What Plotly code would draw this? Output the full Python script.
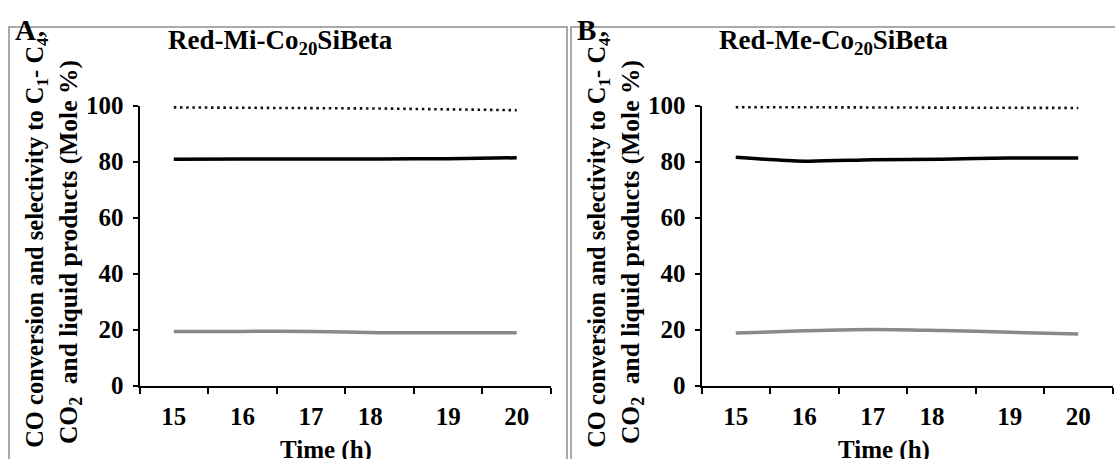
import plotly.graph_objects as go

W, H = 1115, 459

hours = ["15", "16", "17", "18", "19", "20"]
hour_labels = ["15", "16", "17", "18\u00a0\u00a0\u00a0", "19", "20"]
y_ticks = [0, 20, 40, 60, 80, 100]

# Panel A: Red-Mi-Co20SiBeta
a_dotted = [99.4, 99.3, 99.2, 99.0, 98.7, 98.4]
a_solid = [80.9, 81.0, 81.0, 81.0, 81.1, 81.4]
a_gray = [19.4, 19.4, 19.4, 18.9, 18.9, 18.9]

# Panel B: Red-Me-Co20SiBeta
b_dotted = [99.5, 99.4, 99.3, 99.3, 99.2, 99.2]
b_solid = [81.6, 80.2, 80.7, 80.9, 81.3, 81.3]
b_gray = [18.8, 19.6, 20.1, 19.7, 19.1, 18.5]

titles = ["Red-Mi-Co<sub>20</sub>SiBeta", "Red-Me-Co<sub>20</sub>SiBeta"]
panel_labels = ["A", "B"]
ytitle_line1 = "CO conversion and selectivity to C<sub>1</sub>- C<sub>4</sub>,"
ytitle_line2 = "CO<sub>2</sub>  and liquid products (Mole %)"
xtitle = "Time (h)"

FONT = "Liberation Serif, Times New Roman, serif"

def px(x):
    return x / W

def py(y):
    return 1 - y / H

fig = go.Figure()

for i, (dot, sol, gr) in enumerate([(a_dotted, a_solid, a_gray), (b_dotted, b_solid, b_gray)]):
    xa = "x" if i == 0 else "x2"
    ya = "y" if i == 0 else "y2"
    fig.add_trace(go.Scatter(x=hours, y=dot, mode="lines", xaxis=xa, yaxis=ya,
                             line=dict(color="#111111", width=2.6, dash="2.5px,3.7px"),
                             showlegend=False, cliponaxis=False))
    fig.add_trace(go.Scatter(x=hours, y=sol, mode="lines", xaxis=xa, yaxis=ya,
                             line=dict(color="black", width=3.5, shape="spline", smoothing=0.8),
                             showlegend=False))
    fig.add_trace(go.Scatter(x=hours, y=gr, mode="lines", xaxis=xa, yaxis=ya,
                             line=dict(color="#8a8a8a", width=3.5, shape="spline", smoothing=0.8),
                             showlegend=False))

ydom = [py(396), py(98.5)]
xdoms = [[px(139.5), px(551)], [px(701.5), px(1112.5)]]

tickfont = dict(family=FONT, size=25, color="black", weight="bold")

common_x = dict(type="category", range=[-0.5, 5.5], tickson="boundaries",
                showline=True, linecolor="black", linewidth=2,
                ticks="outside", ticklen=6, tickwidth=2, tickcolor="black",
                showgrid=False, zeroline=False, tickfont=tickfont, ticklabelstandoff=7,
                categoryorder="array", categoryarray=hours,
                tickmode="array", tickvals=hours, ticktext=hour_labels)
common_y = dict(range=[0, 100], tickvals=y_ticks, showline=True, linecolor="black",
                linewidth=2, ticks="outside", ticklen=5, tickwidth=2, tickcolor="black",
                showgrid=False, zeroline=False, tickfont=tickfont, ticklabelstandoff=4,
                domain=ydom)

fig.update_layout(
    width=W, height=H, autosize=False,
    margin=dict(l=0, r=0, t=0, b=0),
    paper_bgcolor="white", plot_bgcolor="white",
    xaxis=dict(domain=xdoms[0], anchor="y", **common_x),
    yaxis=dict(anchor="x", **common_y),
    xaxis2=dict(domain=xdoms[1], anchor="y2", **common_x),
    yaxis2=dict(anchor="x2", **common_y),
)

# panel borders
for x0, x1 in [(9, 567), (571, 1125)]:
    fig.add_shape(type="rect", xref="paper", yref="paper",
                  x0=px(x0), x1=px(x1), y0=-0.05, y1=py(15),
                  line=dict(color="#8f8f8f", width=1.5), fillcolor="rgba(0,0,0,0)", layer="below")

offsets = [0, 562]
title_cx = [280, 833]
xtitle_cx = [326, 884]
for i in range(2):
    off = offsets[i]
    fig.add_annotation(text=titles[i], xref="paper", yref="paper",
                       x=px(title_cx[i]), y=py(31), xanchor="center", yanchor="middle",
                       showarrow=False, font=dict(family=FONT, size=27, color="black", weight="bold"))
    fig.add_annotation(text=panel_labels[i], xref="paper", yref="paper",
                       x=px(13 + off), y=py(18), xanchor="left", yanchor="middle",
                       showarrow=False, font=dict(family=FONT, size=29, color="black", weight="bold"))
    fig.add_annotation(text=ytitle_line1, xref="paper", yref="paper",
                       x=px(37 + off), y=py(241), xanchor="center", yanchor="middle",
                       textangle=-90, showarrow=False,
                       font=dict(family=FONT, size=24.5, color="black", weight="bold"))
    fig.add_annotation(text=ytitle_line2, xref="paper", yref="paper",
                       x=px(70 + off), y=py(254), xanchor="center", yanchor="middle",
                       textangle=-90, showarrow=False,
                       font=dict(family=FONT, size=25.5, color="black", weight="bold"))
    fig.add_annotation(text=xtitle, xref="paper", yref="paper",
                       x=px(xtitle_cx[i]), y=py(464), xanchor="center", yanchor="middle",
                       showarrow=False, font=dict(family=FONT, size=25, color="black", weight="bold"))

fig.write_html("out.html")
